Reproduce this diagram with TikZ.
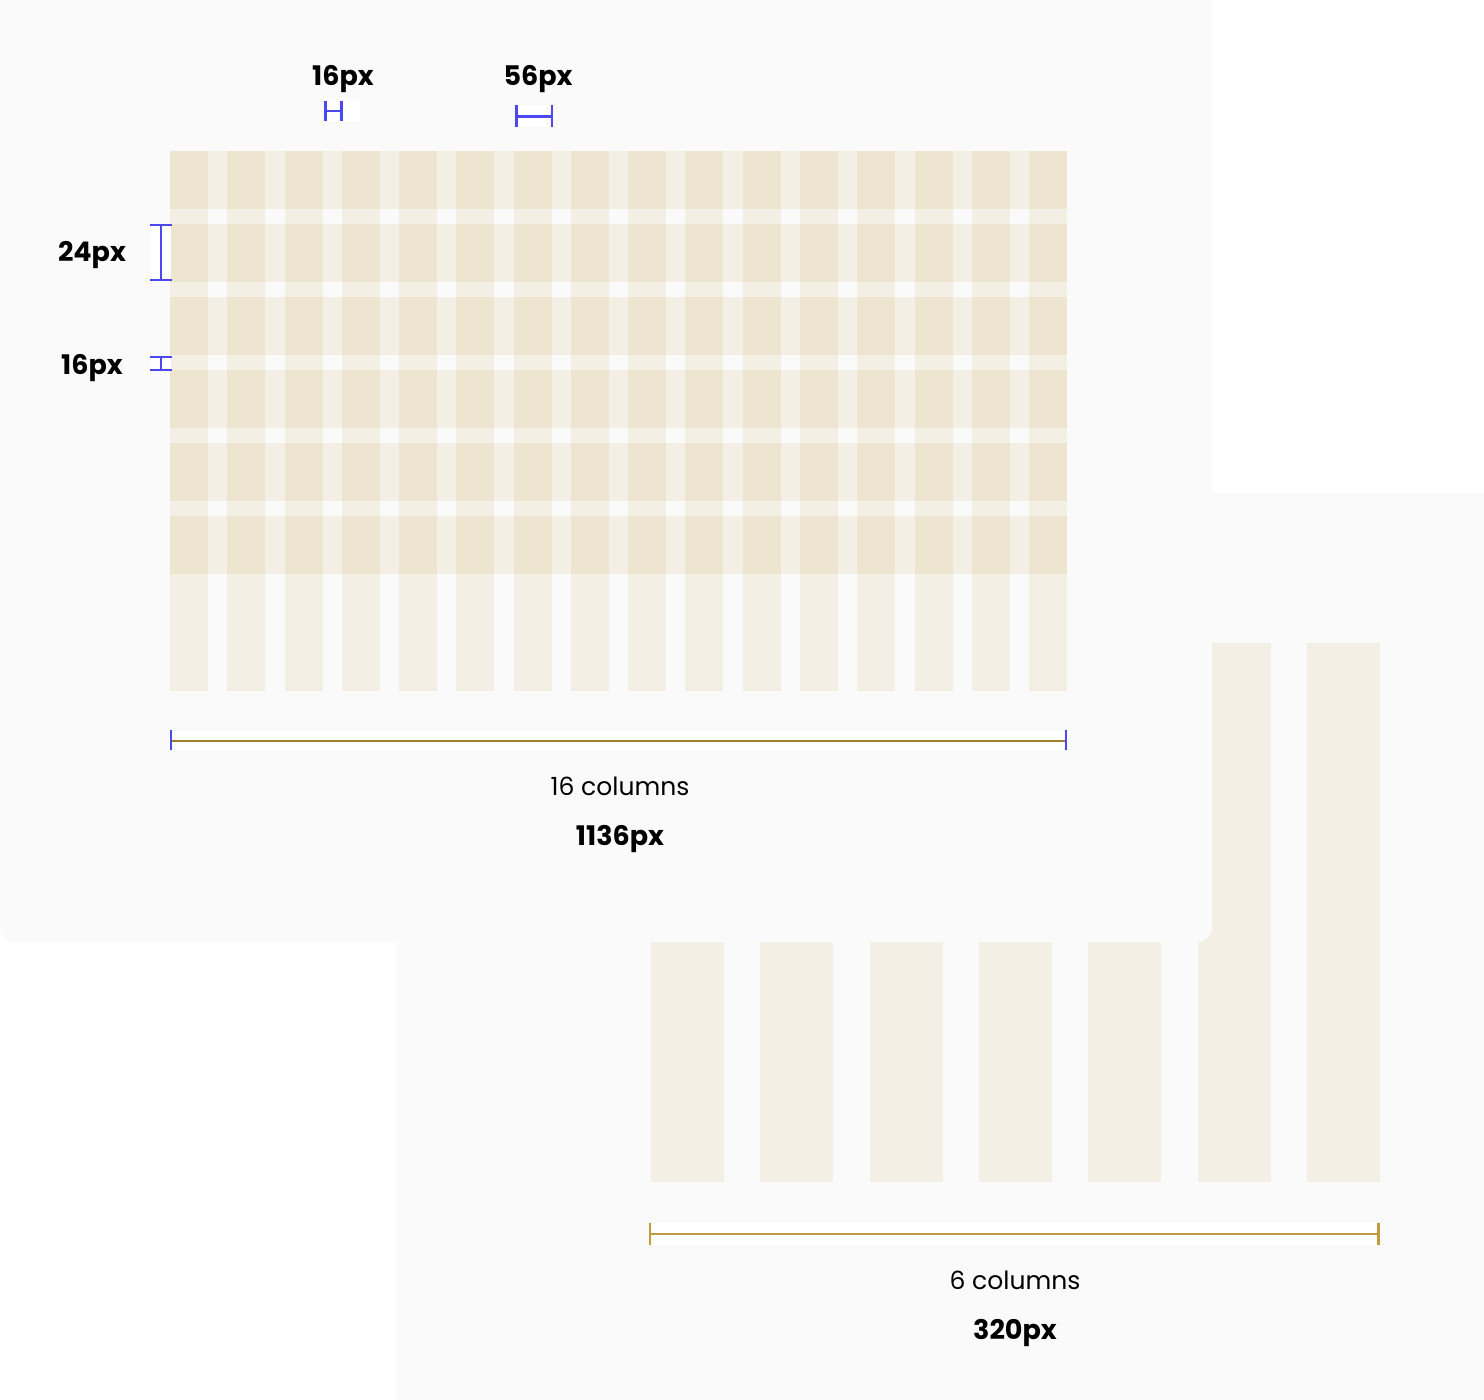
\documentclass[tikz,border=0pt]{standalone}
\usepackage{fontspec}
\setmainfont{Poppins}
\usetikzlibrary{positioning}
\definecolor{panelgray}{HTML}{FAFAFA}
\definecolor{gridgold}{HTML}{D2B167}
\definecolor{markblue}{HTML}{4C47F0}
\definecolor{spangold}{HTML}{A07D2C}
\definecolor{spanlight}{HTML}{C29C3C}
\tikzset{
  gridfill/.style={fill=gridgold,fill opacity=0.15},
  maskbox/.style={fill=white},
  measure/.style={draw=markblue,line width=2.4pt},
  spanline/.style={draw=spangold,line width=2.6pt},
  spanlinelight/.style={draw=spanlight,line width=2.6pt},
  pxlabel/.style={anchor=base,inner sep=0pt,font=\fontsize{27}{30}\selectfont\bfseries},
  countlabel/.style={anchor=base,inner sep=0pt,font=\fontsize{25}{28}\selectfont}
}
\begin{document}
\begin{tikzpicture}[x=1pt,y=-1pt]
  \useasboundingbox (0,0) rectangle (1484,1400);
  \fill[white] (0,0) rectangle (1484,1400);

  % mobile panel (behind)
  \fill[panelgray] (396,493) rectangle (1520,1430);
  \foreach \i in {0,...,6}
    \fill[gridfill] ({651+109.33*\i},643) rectangle ++(73,539);

  % desktop panel
  \fill[panelgray,rounded corners=15pt] (0,-40) rectangle (1212,942);
  \foreach \i in {0,...,15}
    \fill[gridfill] ({170+57.27*\i},151) rectangle ++(38,540);
  \foreach \j in {0,...,5}
    \fill[gridfill] (170,{151+73*\j}) rectangle (1067,{209+73*\j});

  % gutter / column markers on top
  \fill[maskbox] (324,100) rectangle (360,122);
  \coordinate (gutL) at (325.5,111);
  \coordinate (gutR) at (341.5,111);
  \draw[measure] (gutL) -- (gutR);
  \draw[measure] (325.5,101) -- (325.5,121) (341.5,101) -- (341.5,121);
  \fill[maskbox] (515,105) rectangle (553,127);
  \coordinate (colL) at (516.5,116.5);
  \coordinate (colR) at (552,116.5);
  \draw[measure] (colL) -- (colR);
  \draw[measure] (516.5,105) -- (516.5,127) (552,105) -- (552,127);
  \node[pxlabel] (gutter) at (343,85) {16px};
  \node[pxlabel] (colwidth) at (538,85) {56px};

  % row / row-gap markers on the left
  \fill[maskbox] (150,224) rectangle (171,281);
  \coordinate (rowT) at (161,225);
  \coordinate (rowB) at (161,280);
  \draw[measure] (rowT) -- (rowB);
  \draw[measure] (150,225) -- (172,225) (150,280) -- (172,280);
  \fill[maskbox] (150,356) rectangle (171,371);
  \coordinate (gapT) at (161,357);
  \coordinate (gapB) at (161,370);
  \draw[measure] (gapT) -- (gapB);
  \draw[measure] (150,357) -- (172,357) (150,370) -- (172,370);
  \node[pxlabel] (rowheight) at (92,261) {24px};
  \node[pxlabel] (rowgap) at (92,374) {16px};

  % desktop span
  \fill[maskbox] (171,731) rectangle (1067,751);
  \coordinate (wideL) at (171,741);
  \coordinate (wideR) at (1066,741);
  \draw[spanline] (wideL) -- (wideR);
  \draw[measure] (171,730) -- (171,750) (1066,730) -- (1066,750);
  \node[countlabel] (widecount) at (620,795) {16 columns};
  \node[pxlabel] (widepx) at (620,845) {1136px};

  % mobile span
  \fill[maskbox] (650,1223) rectangle (1379,1245);
  \coordinate (narrowL) at (650,1234);
  \coordinate (narrowR) at (1378.5,1234);
  \draw[spanlinelight] (narrowL) -- (narrowR);
  \draw[spanlinelight] (650,1223) -- (650,1245) (1378.5,1223) -- (1378.5,1245);
  \node[countlabel] (narrowcount) at (1015,1289) {6 columns};
  \node[pxlabel] (narrowpx) at (1015,1339) {320px};
\end{tikzpicture}
\end{document}
